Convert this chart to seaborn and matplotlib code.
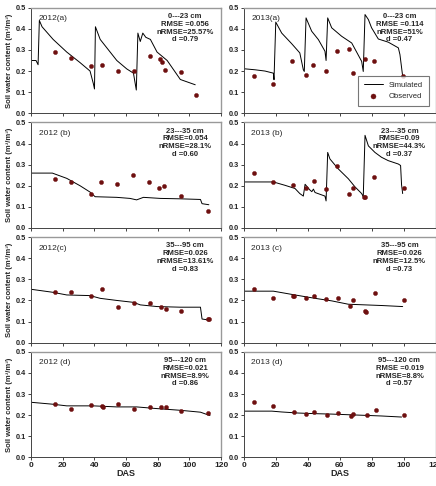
import matplotlib
matplotlib.use('Agg')
import matplotlib.pyplot as plt
import pandas as pd
import seaborn as sns

sns.set_style('ticks')
plt.rcParams['font.family'] = ['Liberation Sans', 'DejaVu Sans']

# ---- simulated lines (DAS, soil water content) ----
sim12a_x = [0, 3.2, 4.5, 5.3, 7, 14, 22.6, 31, 37.3, 39.4, 40.1, 40.7, 43.7, 47.9, 54.2, 60.5, 64.7, 66.5,
            67.5, 69, 70.6, 72.5, 75.4, 79.6, 86, 94.3, 103.7]
sim12a_y = [0.25, 0.25, 0.23, 0.44, 0.41, 0.35, 0.29, 0.24, 0.20, 0.14, 0.115, 0.41, 0.35, 0.31, 0.25, 0.21,
            0.19, 0.11, 0.38, 0.34, 0.38, 0.36, 0.35, 0.29, 0.25, 0.16, 0.135]

sim12b_x = [0, 13.5, 22.6, 31, 37.3, 40.5, 54.2, 62.5, 66.7, 71, 81.6, 94.3, 107, 108, 112.3]
sim12b_y = [0.26, 0.26, 0.235, 0.20, 0.17, 0.148, 0.145, 0.14, 0.133, 0.145, 0.14, 0.138, 0.135, 0.115, 0.11]

sim12c_x = [0, 13.5, 22.6, 37.3, 43.7, 54.2, 64.7, 69, 79.6, 94.3, 107, 108, 112.3]
sim12c_y = [0.253, 0.239, 0.226, 0.223, 0.21, 0.20, 0.191, 0.179, 0.171, 0.168, 0.168, 0.112, 0.107]

sim12d_x = [0, 13.5, 22.6, 39.4, 54.2, 66.7, 79.6, 94.3, 107, 113]
sim12d_y = [0.261, 0.252, 0.244, 0.244, 0.239, 0.239, 0.231, 0.223, 0.214, 0.198]

sim13a_x = [0, 7.1, 13.3, 18.5, 18.9, 20, 23.7, 29.9, 35, 37.2, 37.8, 38.9, 42.4, 46.6, 50.7, 51.4, 52.4,
            54.9, 61.1, 67.4, 73.6, 74.6, 75.7, 77.8, 79.8, 84, 90.2, 96.5, 97.5, 99.2]
sim13a_y = [0.211, 0.206, 0.20, 0.19, 0.159, 0.432, 0.38, 0.33, 0.286, 0.206, 0.198, 0.452, 0.389, 0.349,
            0.294, 0.25, 0.452, 0.405, 0.365, 0.333, 0.246, 0.198, 0.468, 0.444, 0.405, 0.352, 0.337, 0.31,
            0.278, 0.175]

sim13b_x = [0, 18.5, 25.8, 32, 35, 37.2, 38.3, 41.4, 42.5, 43.5, 44.5, 50.7, 51.4, 52.4, 53.8, 59, 65.3,
            69.4, 73.6, 74.6, 75.7, 77.8, 81.9, 86, 90.2, 96.5, 97.9, 98.5, 99.2]
sim13b_y = [0.218, 0.218, 0.202, 0.187, 0.163, 0.151, 0.207, 0.179, 0.172, 0.184, 0.168, 0.151, 0.128,
            0.358, 0.327, 0.28, 0.233, 0.195, 0.163, 0.148, 0.439, 0.389, 0.358, 0.335, 0.319, 0.303,
            0.296, 0.205, 0.163]

sim13c_x = [0, 18.5, 32, 44.5, 54.9, 65.3, 75.7, 86, 99.2]
sim13c_y = [0.244, 0.244, 0.226, 0.21, 0.198, 0.182, 0.179, 0.176, 0.171]

sim13d_x = [0, 17.5, 23.7, 34, 44.5, 54.9, 65.3, 75.7, 86, 98.5]
sim13d_y = [0.219, 0.219, 0.215, 0.21, 0.207, 0.205, 0.202, 0.199, 0.196, 0.191]

# ---- observed points ----
obs12a_x = [15, 25, 38, 45, 55, 65, 75, 81.5, 82.5, 84.5, 94.5, 104.5]
obs12a_y = [0.29, 0.26, 0.222, 0.23, 0.20, 0.20, 0.27, 0.255, 0.245, 0.206, 0.195, 0.088]

obs12b_x = [15, 25, 38, 44.5, 54.5, 64.5, 74.5, 81, 84, 94.5, 111.5]
obs12b_y = [0.23, 0.22, 0.16, 0.22, 0.21, 0.25, 0.22, 0.19, 0.20, 0.15, 0.08]

obs12c_x = [15, 25, 38, 45, 55, 65, 75, 82, 85, 95, 112, 112.5]
obs12c_y = [0.24, 0.24, 0.22, 0.255, 0.17, 0.19, 0.19, 0.17, 0.16, 0.15, 0.11, 0.112]

obs12d_x = [15, 25, 38, 45, 45.5, 55, 65, 75, 82, 85, 95, 112]
obs12d_y = [0.252, 0.23, 0.25, 0.245, 0.24, 0.253, 0.23, 0.24, 0.24, 0.24, 0.222, 0.212]

obs13a_x = [6.7, 18.1, 30.4, 38.7, 43.5, 51.4, 58, 65.7, 68, 75.7, 81.5, 99.2]
obs13a_y = [0.178, 0.137, 0.25, 0.183, 0.229, 0.198, 0.297, 0.305, 0.192, 0.259, 0.248, 0.178]

obs13b_x = [6.7, 18.5, 31, 38.7, 43.7, 51.4, 58, 65.7, 68, 75, 75.8, 81.5, 100]
obs13b_y = [0.26, 0.22, 0.202, 0.19, 0.221, 0.184, 0.293, 0.162, 0.191, 0.148, 0.146, 0.241, 0.187]

obs13c_x = [6.7, 18.5, 31, 31.5, 38.7, 43.7, 51.4, 58.6, 66.3, 68, 75.7, 76.2, 81.9, 99.8]
obs13c_y = [0.254, 0.213, 0.223, 0.22, 0.21, 0.223, 0.207, 0.213, 0.174, 0.204, 0.148, 0.145, 0.235, 0.204]

obs13d_x = [6.7, 18.5, 31.2, 38.7, 44, 52, 58.8, 66.7, 68.4, 76.7, 82.7, 100]
obs13d_y = [0.26, 0.243, 0.213, 0.205, 0.215, 0.199, 0.209, 0.198, 0.205, 0.199, 0.223, 0.202]

panel_labels = ['2012(a)', '2013(a)', '2012 (b)', '2013 (b)', '2012(c)', '2013 (c)', '2012 (d)', '2013 (d)']
depths = ['0---23 cm', '0---23 cm', '23---35 cm', '23---35 cm',
          '35---95 cm', '35---95 cm', '95---120 cm', '95---120 cm']
rmse = ['RMSE =0.056', 'RMSE =0.114', 'RMSE=0.054', 'RMSE=0.09',
        'RMSE=0.026', 'RMSE=0.026', 'RMSE=0.021', 'RMSE =0.019']
nrmse = ['nRMSE=25.57%', 'nRMSE=51%', 'nRMSE=28.1%', 'nRMSE=44.3%',
         'nRMSE=13.61%', 'nRMSE=12.5%', 'nRMSE=8.9%', 'nRMSE=8.8%']
dval = ['d =0.79', 'd =0.47', 'd =0.60', 'd =0.37', 'd =0.83', 'd =0.73', 'd =0.86', 'd =0.57']

sims = [(sim12a_x, sim12a_y), (sim13a_x, sim13a_y), (sim12b_x, sim12b_y), (sim13b_x, sim13b_y),
        (sim12c_x, sim12c_y), (sim13c_x, sim13c_y), (sim12d_x, sim12d_y), (sim13d_x, sim13d_y)]
obss = [(obs12a_x, obs12a_y), (obs13a_x, obs13a_y), (obs12b_x, obs12b_y), (obs13b_x, obs13b_y),
        (obs12c_x, obs12c_y), (obs13c_x, obs13c_y), (obs12d_x, obs12d_y), (obs13d_x, obs13d_y)]

fig = plt.figure(figsize=(4.36, 4.86), dpi=100)

col_left = [0.071, 0.559]
col_width = [0.436, 0.441]
row_bottom = [0.767, 0.531, 0.295, 0.059]
row_height = 0.217

obs_color = '#6e1010'

for i in range(8):
    r, c = i // 2, i % 2
    ax = fig.add_axes([col_left[c], row_bottom[r], col_width[c], row_height])
    sx, sy = sims[i]
    ox, oy = obss[i]
    sns.lineplot(x=sx, y=sy, ax=ax, color='black', linewidth=0.7, sort=False,
                 label='Simulated' if i == 1 else None)
    sns.scatterplot(x=ox, y=oy, ax=ax, color=obs_color, s=9, edgecolor=obs_color, linewidth=0.3,
                    label='Observed' if i == 1 else None, zorder=3)
    ax.set_xlim(0, 120)
    ax.set_ylim(0, 0.5)
    ax.set_xticks(range(0, 121, 20))
    ax.set_yticks([0, 0.1, 0.2, 0.3, 0.4, 0.5])
    ax.set_yticklabels(['0.0', '0.1', '0.2', '0.3', '0.4', '0.5'], fontsize=5.3, fontweight='bold')
    ax.tick_params(axis='both', length=2.2, width=0.6, pad=1.2, colors='#222222')
    if r == 3:
        ax.set_xticklabels([str(t) for t in range(0, 121, 20)], fontsize=6, fontweight='bold')
        ax.set_xlabel('DAS', fontsize=6.5, fontweight='bold', labelpad=0)
    else:
        ax.set_xticklabels([])
    if c == 0:
        ax.set_ylabel('Soil water content (m³/m³)', fontsize=5.5, fontweight='bold')
        ax.yaxis.set_label_coords(-0.097, 0.5)
    for side in ['left', 'bottom']:
        ax.spines[side].set_color('#444444')
        ax.spines[side].set_linewidth(0.7)
    for side in ['top', 'right']:
        ax.spines[side].set_visible(True)
        ax.spines[side].set_color('#999999')
        ax.spines[side].set_linewidth(1.0)
    ax.text(0.04, 0.93, panel_labels[i], transform=ax.transAxes, fontsize=6, va='top', ha='left')
    ax.text(0.81, 0.95, '\n'.join([depths[i], rmse[i], nrmse[i], dval[i]]), transform=ax.transAxes,
            fontsize=5.5, fontweight='bold', va='top', ha='center', linespacing=1.15)
    if i == 1:
        leg = ax.legend(loc='lower right', fontsize=5.5, frameon=True, fancybox=False,
                        edgecolor='#555555', borderpad=0.8, handlelength=2.5, markerscale=1.2,
                        bbox_to_anchor=(0.985, 0.03))
        leg.get_frame().set_linewidth(0.8)
    elif ax.get_legend() is not None:
        ax.get_legend().remove()

fig.savefig('out.png', dpi=100)
